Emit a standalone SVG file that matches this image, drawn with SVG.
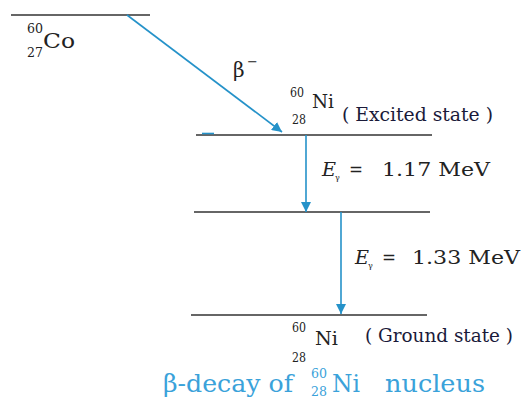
<svg xmlns="http://www.w3.org/2000/svg" width="523" height="401" viewBox="0 0 523 401" font-family="DejaVu Serif, serif">
<defs>
<style>
.lvl{stroke:#333;stroke-width:1.6;fill:none}
.arr{stroke:#2592c9;stroke-width:1.6;fill:none}
.t{font-family:"DejaVu Serif","Liberation Serif",serif;fill:#222}
.s{font-size:12px}
.st{fill:#1a1a3a}
.cap{font-family:"DejaVu Serif","Liberation Serif",serif;fill:#3aa2da}
</style>
<marker id="ah" viewBox="0 0 10 10" refX="10" refY="5" markerWidth="10" markerHeight="10" markerUnits="userSpaceOnUse" orient="auto">
<path d="M0,0 L10,5 L0,10 Z" fill="#2592c9"/>
</marker>
</defs>
<rect width="523" height="401" fill="#fff"/>
<g id="co60">
<line class="lvl" x1="11" y1="15" x2="150" y2="15"/>
<text class="t s" x="27" y="33" textLength="16" lengthAdjust="spacingAndGlyphs">60</text>
<text class="t s" x="27" y="57" textLength="16" lengthAdjust="spacingAndGlyphs">27</text>
<text class="t" x="43" y="48" font-size="21" textLength="32" lengthAdjust="spacingAndGlyphs">Co</text>
</g>
<g id="ni-excited">
<line class="lvl" x1="196" y1="135" x2="432" y2="135"/>
<text class="t s" x="290" y="97" textLength="14" lengthAdjust="spacingAndGlyphs">60</text>
<text class="t s" x="292" y="124" textLength="14" lengthAdjust="spacingAndGlyphs">28</text>
<text class="t" x="312" y="108" font-size="19" textLength="22" lengthAdjust="spacingAndGlyphs">Ni</text>
<text class="t st" x="342" y="121" font-size="18" textLength="151" lengthAdjust="spacingAndGlyphs">( Excited state )</text>
</g>
<g id="ni-mid">
<line class="lvl" x1="194" y1="212" x2="430" y2="212"/>
</g>
<g id="ni-ground">
<line class="lvl" x1="191" y1="315" x2="427" y2="315"/>
<text class="t s" x="292" y="332" textLength="14" lengthAdjust="spacingAndGlyphs">60</text>
<text class="t s" x="292" y="362" textLength="14" lengthAdjust="spacingAndGlyphs">28</text>
<text class="t" x="315" y="345" font-size="19" textLength="23" lengthAdjust="spacingAndGlyphs">Ni</text>
<text class="t st" x="365" y="342" font-size="18" textLength="148" lengthAdjust="spacingAndGlyphs">( Ground state )</text>
</g>
<g id="connectors">
<line class="arr" x1="127" y1="15" x2="282" y2="132" marker-end="url(#ah)"/>
<line class="arr" x1="202" y1="133.5" x2="214" y2="133.5"/>
<line class="arr" x1="306" y1="135" x2="306" y2="212" marker-end="url(#ah)"/>
<line class="arr" x1="341" y1="212" x2="341" y2="314" marker-end="url(#ah)"/>
<text class="t" x="233" y="77" font-size="20">β</text>
<text class="t" x="247" y="66" font-size="13">−</text>
<text class="t" x="322" y="176" font-size="18" font-style="italic" textLength="14" lengthAdjust="spacingAndGlyphs">E</text>
<text class="t" x="335" y="180" font-size="8">γ</text>
<text class="t" x="349" y="176" font-size="18" textLength="14" lengthAdjust="spacingAndGlyphs">=</text>
<text class="t" x="382" y="176" font-size="18" textLength="108" lengthAdjust="spacingAndGlyphs">1.17 MeV</text>
<text class="t" x="355" y="264" font-size="18" font-style="italic" textLength="14" lengthAdjust="spacingAndGlyphs">E</text>
<text class="t" x="368" y="268" font-size="8">γ</text>
<text class="t" x="382" y="264" font-size="18" textLength="14" lengthAdjust="spacingAndGlyphs">=</text>
<text class="t" x="412" y="264" font-size="18" textLength="108" lengthAdjust="spacingAndGlyphs">1.33 MeV</text>
</g>
<g id="caption">
<text class="cap" x="163" y="392" font-size="24" textLength="130" lengthAdjust="spacingAndGlyphs">β-decay of</text>
<text class="cap" x="311" y="378" font-size="12" textLength="16" lengthAdjust="spacingAndGlyphs">60</text>
<text class="cap" x="311" y="396" font-size="12" textLength="16" lengthAdjust="spacingAndGlyphs">28</text>
<text class="cap" x="332" y="392" font-size="24" textLength="28" lengthAdjust="spacingAndGlyphs">Ni</text>
<text class="cap" x="385" y="392" font-size="24" textLength="100" lengthAdjust="spacingAndGlyphs">nucleus</text>
</g>
</svg>
